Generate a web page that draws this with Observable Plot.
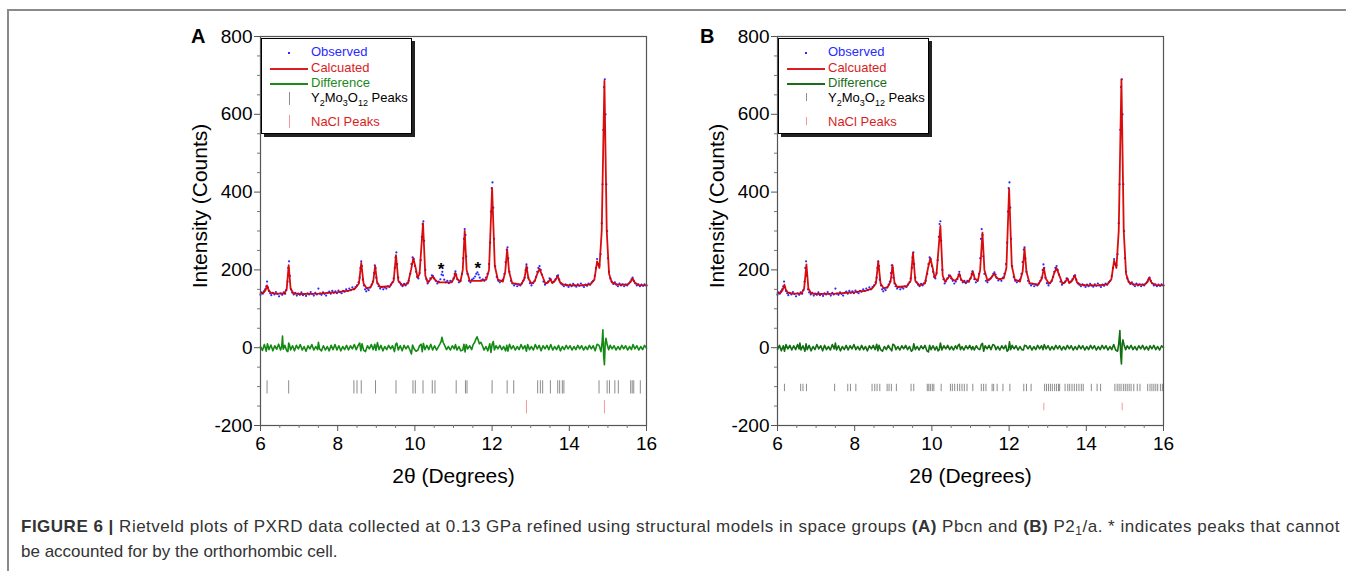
<!DOCTYPE html>
<html><head><meta charset="utf-8">
<script src="https://cdn.jsdelivr.net/npm/d3@7"></script>
<script src="https://cdn.jsdelivr.net/npm/@observablehq/plot@0.6"></script>
<style>
body{margin:0;background:#fff;font-family:"Liberation Sans",Arial,sans-serif;}
#fig{position:relative;width:1346px;height:571px;overflow:hidden;}
.border{position:absolute;left:7px;top:9px;width:1400px;height:600px;border-top:2px solid #8a8a8a;border-left:2px solid #8a8a8a;}
.panel{position:absolute;top:20px;}
.letter{position:absolute;font-weight:bold;font-size:20px;line-height:20px;}
.legend{position:absolute;top:38px;width:149px;height:94px;border:1.5px solid #000;box-shadow:3px 3px 0 #222;background:#fff;font-size:13px;}
.legend .s{position:absolute;}
.legend .t{position:absolute;left:49px;white-space:nowrap;line-height:14px;}
.legend sub{font-size:9px;vertical-align:-4px;line-height:0;}
.caption{position:absolute;left:21px;top:514px;font-size:17px;color:#333;line-height:25px;white-space:nowrap;}
.caption sub{font-size:12px;vertical-align:-3px;line-height:0;}
</style></head>
<body>
<div id="fig">
  <div class="border"></div>
  <div id="pA" class="panel" style="left:150px"></div>
  <div id="pB" class="panel" style="left:667px"></div>
  <div class="letter" style="left:191px;top:26px">A</div>
  <div class="letter" style="left:700px;top:26px">B</div>
  <div class="legend" style="left:261px">
    <div class="s" style="left:26px;top:13px;width:2px;height:2px;background:#2a2aff"></div>
    <div class="t" style="top:6px;color:#2a2aff">Observed</div>
    <div class="s" style="left:8px;top:29px;width:38px;height:2px;background:#d81e1e"></div>
    <div class="t" style="top:22px;color:#d81e1e">Calcuated</div>
    <div class="s" style="left:8px;top:44px;width:38px;height:2px;background:#1a8a1a"></div>
    <div class="t" style="top:37px;color:#1a8a1a">Difference</div>
    <div class="s" style="left:27px;top:53px;width:1px;height:13px;background:#8c8c8c"></div>
    <div class="t" style="top:52px;color:#000">Y<sub>2</sub>Mo<sub>3</sub>O<sub>12</sub> Peaks</div>
    <div class="s" style="left:27px;top:76px;width:1px;height:13px;background:#f19a9a"></div>
    <div class="t" style="top:76px;color:#d81e1e">NaCl Peaks</div>
  </div>
  <div class="legend" style="left:778px">
    <div class="s" style="left:26px;top:13px;width:2px;height:2px;background:#2a2aff"></div>
    <div class="t" style="top:6px;color:#2a2aff">Observed</div>
    <div class="s" style="left:8px;top:29px;width:38px;height:2px;background:#d81e1e"></div>
    <div class="t" style="top:22px;color:#d81e1e">Calcuated</div>
    <div class="s" style="left:8px;top:44px;width:38px;height:2px;background:#1a6e1a"></div>
    <div class="t" style="top:37px;color:#1a6e1a">Difference</div>
    <div class="s" style="left:27px;top:54px;width:1px;height:8px;background:#8c8c8c"></div>
    <div class="t" style="top:52px;color:#000">Y<sub>2</sub>Mo<sub>3</sub>O<sub>12</sub> Peaks</div>
    <div class="s" style="left:27px;top:78px;width:1px;height:8px;background:#f19a9a"></div>
    <div class="t" style="top:76px;color:#d81e1e">NaCl Peaks</div>
  </div>
  <div class="caption"><div id="cap1"><b>FIGURE 6 |</b> Rietveld plots of PXRD data collected at 0.13 GPa refined using structural models in space groups <b>(A)</b> Pbcn and <b>(B)</b> P2<sub>1</sub>/a. * indicates peaks that cannot</div><div>be accounted for by the orthorhombic cell.</div></div>
</div>
<script>
// ---------- data ----------
const xTicks = [6, 8, 10, 12, 14, 16];
const yTicks = [-200, 0, 200, 400, 600, 800];
const yMinor = [-150, -100, -50, 50, 100, 150, 250, 300, 350, 450, 500, 550, 650, 700, 750];
const xMinor = [6.5, 7, 7.5, 8.5, 9, 9.5, 10.5, 11, 11.5, 12.5, 13, 13.5, 14.5, 15, 15.5];

// observed intensities (same data in both panels): [2theta, counts]
const observed = [
[6.00,136],[6.03,142],[6.06,139],[6.09,145],[6.12,150],[6.15,158],[6.17,170],[6.19,155],[6.22,146],[6.25,140],
[6.28,135],[6.32,141],[6.36,137],[6.40,143],[6.44,138],[6.48,132],[6.52,140],[6.56,136],[6.60,142],[6.64,139],
[6.67,148],[6.70,170],[6.72,205],[6.74,222],[6.76,185],[6.79,150],[6.82,142],
[6.86,137],[6.90,141],[6.94,134],[6.98,139],[7.02,136],[7.06,142],[7.10,135],[7.14,138],[7.18,133],[7.22,140],
[7.26,137],[7.30,143],[7.34,138],[7.38,134],[7.42,141],[7.46,137],[7.50,152],[7.54,139],[7.58,136],[7.62,142],
[7.66,138],[7.70,134],[7.74,141],[7.78,144],[7.82,139],[7.86,146],[7.90,141],[7.94,145],[7.98,140],[8.02,147],
[8.06,143],[8.10,140],[8.14,146],[8.18,144],[8.22,150],[8.26,146],[8.30,152],[8.34,148],[8.38,155],[8.42,150],
[8.46,156],[8.50,160],[8.54,168],[8.57,180],[8.59,205],[8.61,222],[8.63,210],[8.65,175],[8.68,160],[8.71,150],
[8.74,145],[8.77,152],[8.80,148],[8.84,155],[8.88,162],[8.91,170],[8.94,192],[8.96,212],[8.98,205],[9.00,180],
[9.03,165],[9.06,158],[9.10,152],[9.14,156],[9.18,150],[9.22,155],[9.26,152],[9.30,158],[9.34,156],[9.38,162],
[9.42,168],[9.45,178],[9.48,205],[9.50,232],[9.52,245],[9.54,215],[9.57,180],[9.60,168],[9.64,162],[9.68,158],
[9.72,164],[9.76,160],[9.80,166],[9.84,172],[9.88,190],[9.91,215],[9.94,232],[9.97,228],[10.00,210],[10.03,195],
[10.06,182],[10.09,178],[10.12,192],[10.15,225],[10.18,285],[10.20,318],[10.22,325],[10.24,275],[10.27,200],
[10.30,176],[10.33,165],[10.36,170],[10.40,178],[10.44,186],[10.47,184],[10.50,178],[10.54,172],[10.58,165],
[10.62,170],[10.66,176],[10.69,188],[10.71,195],[10.73,186],[10.76,175],[10.80,168],[10.84,172],[10.88,166],
[10.92,172],[10.96,170],[11.00,178],[11.03,190],[11.05,196],[11.07,188],[11.10,176],[11.14,168],[11.18,172],
[11.22,190],[11.25,230],[11.27,280],[11.29,305],[11.31,290],[11.33,235],[11.36,190],[11.40,172],[11.44,168],
[11.48,175],[11.52,178],[11.56,183],[11.59,190],[11.62,194],[11.65,188],[11.68,180],[11.72,173],[11.76,176],
[11.80,172],[11.84,180],[11.88,190],[11.92,215],[11.95,270],[11.97,350],[11.99,410],[12.01,425],[12.03,360],
[12.05,280],[12.08,210],[12.12,182],[12.16,172],[12.20,168],[12.24,172],[12.28,175],[12.32,190],[12.35,220],
[12.38,252],[12.40,258],[12.42,230],[12.45,195],[12.49,172],[12.53,165],[12.57,160],[12.61,164],[12.65,158],
[12.69,162],[12.73,160],[12.77,165],[12.81,172],[12.84,180],[12.87,200],[12.89,214],[12.91,205],[12.94,180],
[12.98,166],[13.02,160],[13.06,166],[13.10,172],[13.14,182],[13.17,195],[13.20,205],[13.23,210],[13.26,200],
[13.29,188],[13.33,170],[13.37,162],[13.41,166],[13.45,170],[13.49,178],[13.52,176],[13.56,168],[13.60,170],
[13.64,176],[13.68,184],[13.71,186],[13.74,175],[13.78,165],[13.82,162],[13.86,158],[13.90,163],[13.94,160],
[13.98,156],[14.02,162],[14.06,158],[14.10,164],[14.14,160],[14.18,157],[14.22,163],[14.26,159],[14.30,165],
[14.34,160],[14.38,156],[14.42,162],[14.46,159],[14.50,165],[14.54,162],[14.58,168],[14.62,172],[14.66,185],
[14.69,205],[14.72,228],[14.75,215],[14.78,212],[14.81,240],[14.84,320],[14.86,420],[14.88,560],[14.90,670],
[14.92,690],[14.94,600],[14.96,420],[14.98,300],[15.00,230],[15.03,195],[15.06,178],[15.10,170],[15.14,164],
[15.18,168],[15.22,162],[15.26,158],[15.30,165],[15.34,160],[15.38,163],[15.42,158],[15.46,162],[15.50,160],
[15.54,165],[15.58,170],[15.61,176],[15.64,180],[15.67,172],[15.71,165],[15.75,160],[15.79,163],[15.83,158],
[15.87,162],[15.91,159],[15.95,163],[16.00,160]];

// calculated profile, Pbcn model (A)
const calcA = [
[6.00,140],[6.08,141],[6.13,148],[6.17,160],[6.21,148],[6.27,141],[6.40,139],[6.62,139],[6.68,152],[6.73,212],
[6.78,152],[6.85,140],[7.00,138],[7.50,139],[8.00,143],[8.30,147],[8.45,152],[8.55,165],[8.61,218],[8.67,165],
[8.75,153],[8.85,155],[8.92,170],[8.97,210],[9.02,168],[9.10,156],[9.35,158],[9.45,172],[9.51,238],[9.57,172],
[9.68,160],[9.82,165],[9.90,200],[9.96,230],[10.02,205],[10.07,180],[10.12,190],[10.21,320],[10.27,185],[10.33,168],
[10.40,175],[10.46,183],[10.52,175],[10.60,168],[10.75,168],[10.95,168],[11.01,178],[11.05,192],[11.10,176],
[11.18,170],[11.24,200],[11.29,300],[11.34,200],[11.42,172],[11.55,172],[11.70,172],[11.85,175],[11.92,200],
[12.00,410],[12.07,210],[12.15,175],[12.28,170],[12.34,195],[12.39,253],[12.44,195],[12.52,166],[12.75,162],
[12.84,178],[12.89,210],[12.94,178],[13.02,165],[13.10,170],[13.17,190],[13.23,203],[13.30,185],[13.38,165],
[13.45,168],[13.51,176],[13.56,166],[13.63,172],[13.70,184],[13.76,168],[13.85,162],[14.00,160],[14.30,160],
[14.55,163],[14.65,175],[14.72,222],[14.78,205],[14.84,300],[14.91,686],[14.97,300],[15.03,190],[15.10,168],
[15.25,162],[15.50,162],[15.58,168],[15.64,178],[15.70,167],[15.80,161],[16.00,160]];

// calculated profile, P2_1/a model (B)
const calcB = [
[6.00,140],[6.08,141],[6.13,148],[6.18,162],[6.22,148],[6.28,141],[6.40,139],[6.62,139],[6.69,152],[6.75,214],
[6.80,152],[6.87,140],[7.00,138],[7.50,139],[8.00,143],[8.30,147],[8.45,152],[8.55,165],[8.61,222],[8.67,165],
[8.75,153],[8.85,155],[8.93,170],[8.98,212],[9.03,168],[9.10,156],[9.35,158],[9.45,172],[9.51,244],[9.57,172],
[9.68,160],[9.82,165],[9.90,205],[9.96,230],[10.02,205],[10.07,180],[10.12,190],[10.22,313],[10.28,185],[10.34,170],
[10.41,178],[10.47,186],[10.53,176],[10.60,172],[10.66,178],[10.71,190],[10.76,174],[10.85,168],[10.95,170],
[11.01,180],[11.06,196],[11.11,178],[11.19,172],[11.25,200],[11.31,296],[11.36,200],[11.44,172],[11.52,178],
[11.58,186],[11.62,190],[11.67,180],[11.75,176],[11.86,178],[11.93,205],[12.00,408],[12.07,210],[12.15,175],
[12.28,170],[12.35,195],[12.40,255],[12.45,195],[12.53,166],[12.75,162],[12.85,178],[12.90,205],[12.95,178],
[13.03,165],[13.10,170],[13.17,192],[13.23,205],[13.30,186],[13.38,165],[13.45,168],[13.51,178],[13.56,166],
[13.63,172],[13.70,186],[13.76,168],[13.85,162],[14.00,160],[14.30,160],[14.55,163],[14.65,176],[14.72,224],
[14.78,205],[14.84,300],[14.91,690],[14.97,300],[15.03,190],[15.10,168],[15.25,162],[15.50,162],[15.58,168],
[15.63,180],[15.69,167],[15.80,161],[16.00,160]];

// difference curves (obs - calc)
const diffA = [
[6.00,3],[6.05,-7],[6.10,8],[6.15,-9],[6.18,10],[6.22,-5],[6.27,7],[6.32,-8],[6.37,5],[6.42,-4],[6.47,9],[6.52,-6],
[6.55,3],[6.57,30],[6.59,-4],[6.63,6],[6.68,-8],[6.71,-10],[6.73,12],[6.75,8],[6.78,-6],[6.83,5],[6.88,-8],[6.93,6],
[6.98,-3],[7.03,8],[7.08,-6],[7.13,3],[7.18,-9],[7.23,5],[7.28,-3],[7.33,8],[7.38,-6],[7.43,3],[7.48,-5],[7.50,14],
[7.53,-3],[7.58,-8],[7.63,5],[7.68,-6],[7.73,3],[7.78,-8],[7.83,6],[7.88,-5],[7.93,8],[7.98,-6],[8.03,5],[8.08,-8],
[8.13,3],[8.18,-5],[8.23,6],[8.28,-6],[8.33,5],[8.38,-3],[8.43,8],[8.48,-5],[8.53,6],[8.57,12],[8.60,-8],[8.63,10],
[8.67,-6],[8.72,-10],[8.77,5],[8.82,-3],[8.87,8],[8.92,-5],[8.96,9],[8.99,-7],[9.03,13],[9.07,-5],[9.12,6],[9.17,-8],
[9.22,3],[9.27,-5],[9.32,6],[9.37,-3],[9.42,5],[9.47,-10],[9.50,8],[9.53,12],[9.57,-6],[9.62,5],[9.67,-8],[9.72,6],
[9.77,-3],[9.82,5],[9.87,-6],[9.91,-16],[9.94,7],[9.98,-3],[10.03,-9],[10.08,-6],[10.12,5],[10.16,9],[10.19,-10],
[10.22,11],[10.26,-5],[10.31,6],[10.36,-5],[10.41,9],[10.46,-6],[10.51,5],[10.56,-6],[10.61,3],[10.65,10],[10.68,16],
[10.70,27],[10.73,14],[10.77,6],[10.82,-5],[10.87,3],[10.92,-6],[10.97,5],[11.02,-3],[11.05,8],[11.09,-6],[11.14,3],
[11.19,-8],[11.24,-6],[11.27,9],[11.30,-11],[11.33,8],[11.37,-3],[11.42,5],[11.47,-5],[11.51,8],[11.55,14],[11.58,22],
[11.61,28],[11.64,20],[11.67,10],[11.71,14],[11.75,5],[11.79,-6],[11.84,3],[11.89,-8],[11.94,10],[11.97,-12],[12.00,8],
[12.03,16],[12.06,-6],[12.10,5],[12.15,-3],[12.20,6],[12.25,-5],[12.30,3],[12.35,-8],[12.38,6],[12.41,-9],[12.45,9],
[12.50,-3],[12.55,5],[12.60,-6],[12.65,3],[12.70,-5],[12.75,8],[12.80,-3],[12.85,5],[12.89,-9],[12.92,8],[12.97,-5],
[13.02,3],[13.07,-6],[13.12,8],[13.17,-3],[13.22,6],[13.27,-8],[13.32,5],[13.37,-3],[13.42,6],[13.47,-5],[13.52,8],
[13.57,-6],[13.62,3],[13.67,-5],[13.72,6],[13.77,-8],[13.82,3],[13.87,-5],[13.92,6],[13.97,-3],[14.02,5],[14.07,-6],
[14.12,3],[14.17,-5],[14.22,6],[14.27,-3],[14.32,5],[14.37,-6],[14.42,3],[14.47,-5],[14.52,6],[14.57,-3],[14.62,5],
[14.67,-8],[14.72,9],[14.77,6],[14.82,-10],[14.85,14],[14.87,46],[14.89,-20],[14.91,-44],[14.93,12],[14.95,24],
[14.98,8],[15.02,-5],[15.06,6],[15.11,-3],[15.16,5],[15.21,-6],[15.26,3],[15.31,-5],[15.36,6],[15.41,-3],[15.46,5],
[15.51,-6],[15.56,3],[15.61,-5],[15.65,8],[15.70,-3],[15.75,5],[15.80,-6],[15.85,3],[15.90,-5],[15.95,6],[16.00,-1]];

const diffB = [
[6.00,-5],[6.05,6],[6.10,-8],[6.15,5],[6.18,-9],[6.22,8],[6.27,-3],[6.32,6],[6.37,-6],[6.42,5],[6.47,-5],[6.52,8],
[6.56,-3],[6.58,12],[6.61,-6],[6.66,5],[6.71,-9],[6.74,10],[6.77,-5],[6.82,6],[6.87,-8],[6.92,3],[6.97,-5],[7.02,8],
[7.07,-3],[7.12,5],[7.17,-8],[7.22,6],[7.27,-5],[7.32,3],[7.37,-6],[7.42,8],[7.47,-3],[7.50,12],[7.53,-6],[7.58,5],
[7.63,-8],[7.68,3],[7.73,-5],[7.78,6],[7.83,-6],[7.88,5],[7.93,-3],[7.98,8],[8.03,-5],[8.08,3],[8.13,-6],[8.18,6],
[8.23,-5],[8.28,3],[8.33,-8],[8.38,5],[8.43,-3],[8.48,6],[8.53,-5],[8.57,9],[8.60,-8],[8.63,6],[8.67,-5],[8.72,-9],
[8.77,3],[8.82,-5],[8.87,6],[8.92,-3],[8.96,-8],[8.99,9],[9.03,6],[9.07,-5],[9.12,3],[9.17,-6],[9.22,5],[9.27,-3],
[9.32,6],[9.37,-5],[9.42,3],[9.47,-9],[9.50,-6],[9.53,10],[9.57,-5],[9.62,3],[9.67,-6],[9.72,5],[9.77,-3],[9.82,6],
[9.87,-8],[9.91,-11],[9.94,6],[9.98,-5],[10.03,5],[10.08,-6],[10.12,3],[10.16,-8],[10.19,-5],[10.22,12],[10.26,-6],
[10.31,5],[10.36,-3],[10.41,6],[10.46,-5],[10.51,3],[10.56,-6],[10.61,5],[10.65,-3],[10.68,6],[10.71,9],[10.74,-5],
[10.78,3],[10.83,-6],[10.88,5],[10.93,-3],[10.98,6],[11.03,-5],[11.06,3],[11.10,-6],[11.15,5],[11.20,-3],[11.24,-5],
[11.28,8],[11.31,11],[11.34,-9],[11.38,5],[11.43,-3],[11.48,6],[11.53,-5],[11.58,8],[11.62,6],[11.66,-5],[11.71,3],
[11.76,-6],[11.81,5],[11.86,-3],[11.91,6],[11.95,-9],[11.98,-6],[12.01,15],[12.04,-5],[12.08,6],[12.13,-3],[12.18,5],
[12.23,-6],[12.28,3],[12.33,-5],[12.37,-6],[12.40,6],[12.44,5],[12.49,-3],[12.54,5],[12.59,-6],[12.64,3],[12.69,-5],
[12.74,6],[12.79,-3],[12.84,5],[12.88,-5],[12.91,8],[12.96,-3],[13.01,5],[13.06,-6],[13.11,3],[13.16,-5],[13.21,6],
[13.26,-3],[13.31,5],[13.36,-6],[13.41,3],[13.46,-5],[13.51,6],[13.56,-3],[13.61,5],[13.66,-6],[13.71,3],[13.76,-5],
[13.81,6],[13.86,-3],[13.91,5],[13.96,-6],[14.01,3],[14.06,-5],[14.11,6],[14.16,-3],[14.21,5],[14.26,-6],[14.31,3],
[14.36,-5],[14.41,6],[14.46,-3],[14.51,5],[14.56,-6],[14.61,3],[14.66,-5],[14.71,8],[14.76,-6],[14.81,-9],[14.84,10],
[14.87,44],[14.89,-18],[14.91,-42],[14.93,10],[14.95,20],[14.98,6],[15.02,-5],[15.06,5],[15.11,-3],[15.16,6],[15.21,-5],
[15.26,3],[15.31,-6],[15.36,5],[15.41,-3],[15.46,6],[15.51,-5],[15.56,3],[15.61,-6],[15.65,5],[15.70,-3],[15.75,6],
[15.80,-5],[15.85,3],[15.90,-6],[15.95,5],[16.00,0]];

// reflection positions (2theta)
const peaksPbcn = [6.17,6.73,8.42,8.50,8.61,8.98,9.51,9.95,10.01,10.21,10.45,10.52,11.07,11.31,11.35,12.00,12.39,12.56,
  13.18,13.25,13.31,13.51,13.70,13.75,13.82,13.86,14.77,14.98,15.04,15.18,15.27,15.59,15.63,15.67,15.84];
const peaksP21a = [6.18,6.60,6.66,6.75,7.48,7.82,7.89,8.03,8.45,8.52,8.58,8.65,8.84,8.89,8.95,9.08,9.46,9.53,9.88,9.92,
  9.96,10.01,10.05,10.24,10.48,10.53,10.59,10.66,10.72,10.78,10.84,10.91,11.06,11.28,11.34,11.40,11.56,11.60,11.69,11.84,
  12.02,12.38,12.45,12.57,12.92,12.97,13.02,13.07,13.12,13.18,13.23,13.28,13.31,13.45,13.52,13.57,13.63,13.69,13.75,13.81,
  13.87,13.92,14.13,14.28,14.37,14.74,14.80,14.85,14.90,14.96,15.01,15.06,15.11,15.16,15.23,15.32,15.39,15.59,15.65,15.70,
  15.75,15.80,15.85,15.92,15.97];
const peaksNaClA = [12.89, 14.91];
const peaksNaClB = [12.90, 14.93];
// unexplained peaks marked with *
const starsA = [[10.68, 200], [11.63, 203]];

// ---------- drawing ----------
const font = '"Liberation Sans", Arial, sans-serif';
function panel(calc, diff, phase, nacl, stars, rowMain, rowNacl, diffColor) {
  const P = d => d[0], I = d => d[1];
  return Plot.plot({
    width: 506, height: 470,
    marginLeft: 110, marginRight: 10, marginTop: 16, marginBottom: 65,
    x: {domain: [6, 16]},
    y: {domain: [-200, 800]},
    style: {fontFamily: font, fontSize: "19px", background: "transparent", color: "#000", overflow: "visible"},
    marks: [
      Plot.ruleX(phase, {x: d => d, y1: () => rowMain[0], y2: () => rowMain[1], stroke: "#8c8c8c", strokeWidth: 1}),
      Plot.ruleX(nacl, {x: d => d, y1: () => rowNacl[0], y2: () => rowNacl[1], stroke: "#f19a9a", strokeWidth: 1}),
      Plot.line(diff, {x: P, y: I, stroke: diffColor, strokeWidth: 1.6}),
      Plot.dot(observed, {x: P, y: I, r: 1.1, fill: "#2a2aff"}),
      Plot.line(calc, {x: P, y: I, stroke: "#d80000", strokeWidth: 1.8, strokeOpacity: 0.95}),
      Plot.text(stars, {x: P, y: I, text: () => "*", fontSize: 17, fontWeight: "bold", fill: "#000"}),
      Plot.frame({stroke: "#555", strokeWidth: 1.2}),
      Plot.axisY({ticks: yTicks, tickSize: 6, tickPadding: 2, tickFormat: d => String(d), label: null, stroke: "#555", fontSize: 19}),
      Plot.axisY({ticks: yMinor, tickSize: 3, tickFormat: () => "", label: null, stroke: "#777"}),
      Plot.axisX({ticks: xTicks, tickSize: 6, tickPadding: 5, tickFormat: d => String(d), label: null, stroke: "#555", fontSize: 19}),
      Plot.axisX({ticks: xMinor, tickSize: 3, tickFormat: () => "", label: null, stroke: "#777"}),
      Plot.text(["Intensity (Counts)"], {text: d => d, frameAnchor: "left", textAnchor: "middle", dx: -60, dy: -25, rotate: -90, fontSize: 21}),
      Plot.text(["2θ (Degrees)"], {text: d => d, frameAnchor: "bottom", dy: 57, fontSize: 21})
    ]
  });
}
document.getElementById("pA").append(panel(calcA, diffA, peaksPbcn, peaksNaClA, starsA, [-85, -119], [-136, -170], "#138a13"));
document.getElementById("pB").append(panel(calcB, diffB, peaksP21a, peaksNaClB, [], [-94, -113], [-143, -162], "#116e11"));

// fit first caption line to the reference width
const cap = document.getElementById("cap1");
cap.style.display = "inline-block";
const w = cap.getBoundingClientRect().width;
const n = cap.textContent.length;
cap.style.letterSpacing = ((1319 - w) / n) + "px";
</script>
</body></html>
